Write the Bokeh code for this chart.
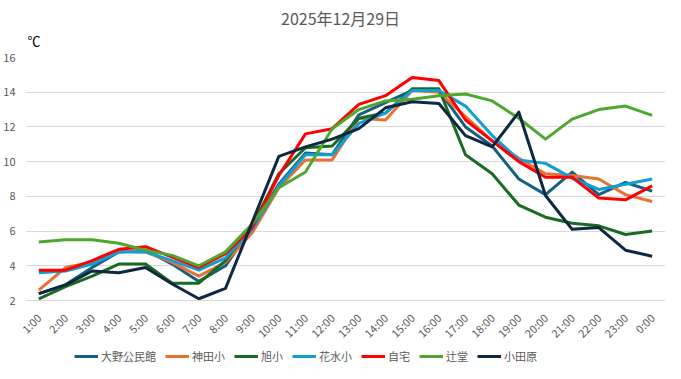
from math import pi
from bokeh.plotting import figure
from bokeh.layouts import column
from bokeh.models import FactorRange, Range1d, Legend, LegendItem, Label, FixedTicker
from bokeh.embed import file_html
from bokeh.resources import INLINE

hours = ["1:00", "2:00", "3:00", "4:00", "5:00", "6:00", "7:00", "8:00", "9:00", "10:00",
         "11:00", "12:00", "13:00", "14:00", "15:00", "16:00", "17:00", "18:00", "19:00",
         "20:00", "21:00", "22:00", "23:00", "0:00"]

oono = [2.4, 2.9, 3.9, 4.8, 4.9, 4.1, 3.1, 4.0, 6.2, 8.7, 10.5, 10.4, 12.7, 13.4, 14.1, 14.1,
        12.0, 10.9, 9.0, 8.1, 9.4, 8.1, 8.8, 8.3]
kanda = [2.6, 3.9, 4.2, 4.85, 4.8, 4.2, 3.4, 4.2, 5.9, 8.5, 10.1, 10.1, 12.5, 12.4, 14.1, 14.0,
         12.6, 11.2, 10.2, 9.3, 9.2, 9.0, 8.1, 7.7]
asahi = [2.1, 2.8, 3.4, 4.1, 4.1, 3.0, 3.0, 4.3, 6.3, 9.3, 10.8, 10.9, 12.5, 12.8, 14.2, 14.2,
         10.4, 9.3, 7.5, 6.8, 6.45, 6.3, 5.8, 6.0]
hanamizu = [3.6, 3.7, 4.1, 4.8, 4.8, 4.3, 3.75, 4.45, 6.1, 8.6, 10.4, 10.4, 12.2, 12.8, 14.1, 14.1,
            13.2, 11.5, 10.1, 9.9, 9.05, 8.4, 8.7, 9.0]
jitaku = [3.75, 3.75, 4.3, 4.95, 5.1, 4.5, 3.9, 4.7, 6.2, 9.2, 11.6, 11.9, 13.3, 13.8, 14.85, 14.67,
          12.4, 11.2, 10.0, 9.1, 9.1, 7.9, 7.8, 8.6]
tsujido = [5.37, 5.5, 5.5, 5.3, 4.9, 4.6, 4.0, 4.8, 6.4, 8.5, 9.4, 11.9, 13.0, 13.5, 13.6, 13.8,
           13.9, 13.5, 12.5, 11.3, 12.45, 13.0, 13.2, 12.67]
odawara = [2.4, 2.9, 3.7, 3.6, 3.9, 2.95, 2.1, 2.7, 6.5, 10.3, 10.85, 11.3, 11.9, 13.1, 13.45, 13.35,
           11.5, 10.85, 12.85, 8.05, 6.1, 6.2, 4.9, 4.55]

names = ["大野公民館", "神田小", "旭小", "花水小", "自宅", "辻堂", "小田原"]
series = [oono, kanda, asahi, hanamizu, jitaku, tsujido, odawara]
colors = ["#156082", "#E97132", "#196B24", "#0F9ED5", "#FF0000", "#4EA72E", "#0E2841"]
y_ticks = [2, 4, 6, 8, 10, 12, 14, 16]
title_text = "2025年12月29日"
unit_text = "℃"

FONT = "Noto Sans CJK JP"
W = 665
BL = 23   # left border shared by all stacked figures
BR = 0    # right border shared by all stacked figures


def strip(h, xr, yr):
    f = figure(width=W, height=h, x_range=xr, y_range=yr, x_axis_type=None, y_axis_type=None,
               output_backend="svg", toolbar_location=None,
               min_border_left=BL, min_border_right=BR, min_border_top=0, min_border_bottom=0)
    f.grid.visible = False
    f.outline_line_color = None
    f.background_fill_color = "white"
    f.border_fill_color = "white"
    return f


# header strip: title and unit (x range equals figure pixels)
HH = 49
head = strip(HH, Range1d(BL, W - BR), Range1d(0, HH))
head.add_layout(Label(x=339, y=HH - 17, text=title_text, text_align="center",
                      text_baseline="middle", text_font=FONT, text_font_size="16px",
                      text_color="#595959"))
head.add_layout(Label(x=25, y=HH - 40, text=unit_text, text_align="left",
                      text_baseline="middle", text_font=FONT, text_font_size="13px",
                      text_color="#000000"))

# main chart
p = figure(width=W, height=300, x_range=FactorRange(*hours), y_range=Range1d(2, 16),
           output_backend="svg", toolbar_location=None,
           min_border_left=BL, min_border_right=BR, min_border_top=8, min_border_bottom=47)
p.outline_line_color = None
p.background_fill_color = "white"
p.border_fill_color = "white"

p.xgrid.grid_line_color = None
p.ygrid.grid_line_color = "#D9D9D9"
p.ygrid.grid_line_width = 1

p.yaxis.ticker = FixedTicker(ticks=y_ticks)
p.yaxis.axis_line_color = None
p.yaxis.major_tick_line_color = None
p.yaxis.major_tick_out = 0
p.yaxis.minor_tick_line_color = None
p.yaxis.major_label_text_color = "#595959"
p.yaxis.major_label_text_font = FONT
p.yaxis.major_label_text_font_size = "11px"
p.yaxis.major_label_standoff = 10

p.xaxis.axis_line_color = "#D9D9D9"
p.xaxis.major_tick_line_color = None
p.xaxis.major_tick_out = 0
p.xaxis.minor_tick_line_color = None
p.xaxis.major_label_orientation = pi / 4
p.xaxis.major_label_text_color = "#595959"
p.xaxis.major_label_text_font = FONT
p.xaxis.major_label_text_font_size = "11px"
p.xaxis.major_label_standoff = 15

for name, vals, col in zip(names, series, colors):
    p.line(hours, vals, line_color=col, line_width=3, line_join="round")

# legend strip
LH = 22
leg = strip(LH, Range1d(0, 1), Range1d(0, 1))
nan = float("nan")
items = []
for name, col in zip(names, colors):
    r = leg.line([nan], [nan], line_color=col, line_width=3)
    items.append(LegendItem(label=name, renderers=[r]))
legend = Legend(items=items, orientation="horizontal", location=(72 - BL, 7),
                label_text_font=FONT, label_text_font_size="11px", label_text_color="#595959",
                glyph_width=24, glyph_height=14, label_height=14, label_standoff=3, spacing=9,
                border_line_color=None, background_fill_alpha=0, padding=0, margin=0)
leg.add_layout(legend)

layout = column(head, p, leg, spacing=0)
open("out.html", "w").write(file_html(layout, INLINE))
